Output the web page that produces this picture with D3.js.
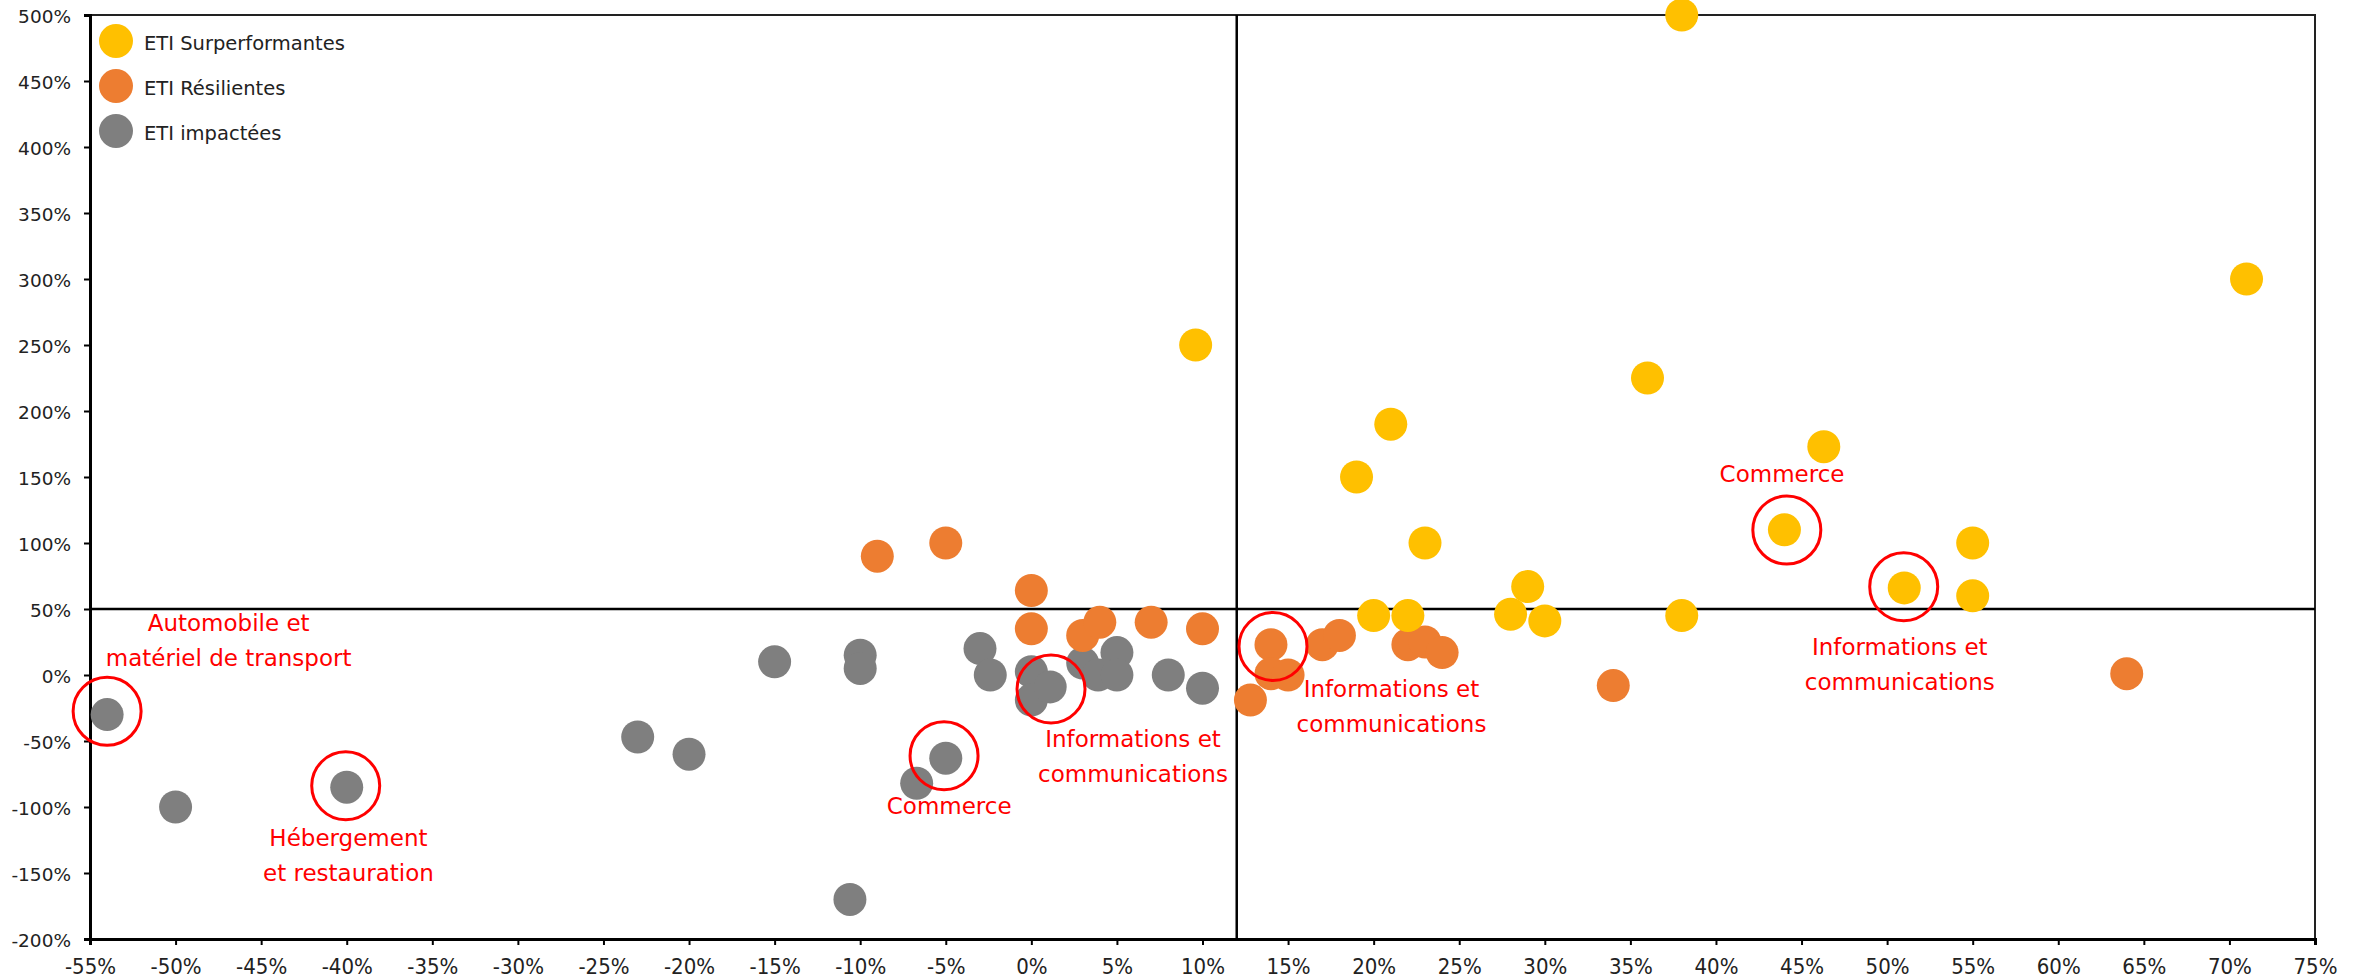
<!DOCTYPE html>
<html>
<head>
<meta charset="utf-8">
<script src="https://cdn.jsdelivr.net/npm/d3@7"></script>
<style>
  html, body { margin: 0; padding: 0; background: #fff; }
  svg { display: block; font-family: "DejaVu Sans", sans-serif; }
</style>
</head>
<body>
<svg id="chart" width="2364" height="980"></svg>
<script>
// Axis tick values (percent)
const xTicks = d3.range(-55, 80, 5);
const yTicks = d3.range(-200, 550, 50);

// Quadrant separators (percent)
const xSplit = 12;
const ySplit = 50;

// Series: [x %, y %]
const seriesNames = ["ETI Surperformantes", "ETI Résilientes", "ETI impactées"];
const seriesColors = ["#FFC000", "#ED7D31", "#7F7F7F"];

const surperformantes = [
  [38, 500], [71, 300], [9.6, 250], [36, 225], [21, 190], [46.3, 173],
  [19, 150], [23, 100], [44, 110], [55, 100], [51, 66], [29, 67],
  [55, 60], [20, 45], [22, 45], [28, 46], [30, 41], [38, 45]
];

const resilientes = [
  [-9, 90], [-5, 100], [0, 64], [0, 35], [3, 30], [4, 40], [7, 40],
  [10, 35], [12.8, -19], [14, 23], [14, 1], [15, 0], [17, 23], [18, 30],
  [22, 23], [23, 25], [24, 17], [34, -8], [64, 1]
];

const impactees = [
  [-54, -30], [-50, -100], [-40, -85], [-23, -47], [-20, -60], [-15, 10],
  [-10, 15], [-10, 5], [-10.6, -170], [-6.7, -82], [-5, -63], [-3, 20],
  [-2.4, 0], [0, 2.5], [0, -19], [1.1, -9], [3, 9], [3.9, 0], [5, 17],
  [5, 0], [8, 0], [10, -10]
];

// Highlighted sectors: ring centre and label anchor (centre x, first baseline y), in data units
const highlights = [
  { ring: [-54, -27.5], anchor: [-46.9, 33.6], lines: ["Automobile et", "matériel de transport"] },
  { ring: [-40.06, -83.9], anchor: [-39.9, -129.3], lines: ["Hébergement", "et restauration"] },
  { ring: [-5.1, -61.1], anchor: [-4.8, -105.3], lines: ["Commerce"] },
  { ring: [1.15, -10.6], anchor: [5.94, -54.9], lines: ["Informations et", "communications"] },
  { ring: [14.12, 21.6], anchor: [21.04, -16.9], lines: ["Informations et", "communications"] },
  { ring: [44.14, 109.8], anchor: [43.86, 146.2], lines: ["Commerce"] },
  { ring: [50.97, 66.9], anchor: [50.74, 15.2], lines: ["Informations et", "communications"] }
];

const svg = d3.select("#chart");
const plotL = 90, plotR = 2315, plotT = 15, plotB = 939;

const x = d3.scaleLinear().domain([-55, 75]).range([plotL, plotR]);
const y = d3.scaleLinear().domain([-200, 500]).range([plotB, plotT]);
const pct = d => d + "%";

// Plot frame (top and right)
svg.append("path")
  .attr("d", `M${plotL},${plotT}H${plotR}V${plotB}`)
  .attr("fill", "none")
  .attr("stroke", "#222")
  .attr("stroke-width", 2);

// Quadrant lines
svg.append("line")
  .attr("x1", x(xSplit)).attr("x2", x(xSplit))
  .attr("y1", plotT).attr("y2", plotB)
  .attr("stroke", "#000").attr("stroke-width", 2.5);
svg.append("line")
  .attr("x1", plotL).attr("x2", plotR)
  .attr("y1", y(ySplit)).attr("y2", y(ySplit))
  .attr("stroke", "#000").attr("stroke-width", 2.5);

// Axes
const gx = svg.append("g")
  .attr("transform", `translate(0,${plotB})`)
  .call(d3.axisBottom(x).tickValues(xTicks).tickFormat(pct).tickSize(6).tickPadding(13));
const gy = svg.append("g")
  .attr("transform", `translate(${plotL},0)`)
  .call(d3.axisLeft(y).tickValues(yTicks).tickFormat(pct).tickSize(6).tickPadding(13));

[gx, gy].forEach(g => {
  g.select(".domain").attr("stroke", "#000").attr("stroke-width", 3);
  g.selectAll(".tick line").attr("stroke", "#000").attr("stroke-width", 2);
  g.selectAll(".tick text").attr("fill", "#222").attr("font-family", "DejaVu Sans, sans-serif");
});
gx.selectAll(".tick text").attr("font-size", 22).attr("font-family", "DejaVu Sans Condensed, DejaVu Sans, sans-serif");
gy.selectAll(".tick text").attr("font-size", 18.5).attr("dy", "0.42em");

// Points
const allSeries = [surperformantes, resilientes, impactees];
const drawOrder = [2, 1, 0];
drawOrder.forEach(i => {
  svg.append("g")
    .selectAll("circle")
    .data(allSeries[i])
    .join("circle")
    .attr("cx", d => x(d[0]))
    .attr("cy", d => y(d[1]))
    .attr("r", 16.5)
    .attr("fill", seriesColors[i]);
});

// Highlight rings and labels
const hl = svg.append("g");
hl.selectAll("circle")
  .data(highlights)
  .join("circle")
  .attr("cx", d => x(d.ring[0]))
  .attr("cy", d => y(d.ring[1]))
  .attr("r", 34)
  .attr("fill", "none")
  .attr("stroke", "#FF0000")
  .attr("stroke-width", 3);

hl.selectAll("text")
  .data(highlights)
  .join("text")
  .attr("x", d => x(d.anchor[0]))
  .attr("y", d => y(d.anchor[1]))
  .attr("text-anchor", "middle")
  .attr("font-size", 23)
  .attr("fill", "#FF0000")
  .selectAll("tspan")
  .data(d => d.lines.map((t, k) => ({ t, k, cx: x(d.anchor[0]) })))
  .join("tspan")
  .attr("x", d => d.cx)
  .attr("dy", d => d.k === 0 ? 0 : 35)
  .text(d => d.t);

// Legend
const legend = svg.append("g").attr("transform", "translate(116,41)");
seriesNames.forEach((name, i) => {
  const row = legend.append("g").attr("transform", `translate(0,${i * 45})`);
  row.append("circle").attr("r", 17).attr("fill", seriesColors[i]);
  row.append("text")
    .attr("x", 28).attr("y", 9)
    .attr("font-size", 19.5)
    .attr("fill", "#222")
    .text(name);
});
</script>
</body>
</html>
